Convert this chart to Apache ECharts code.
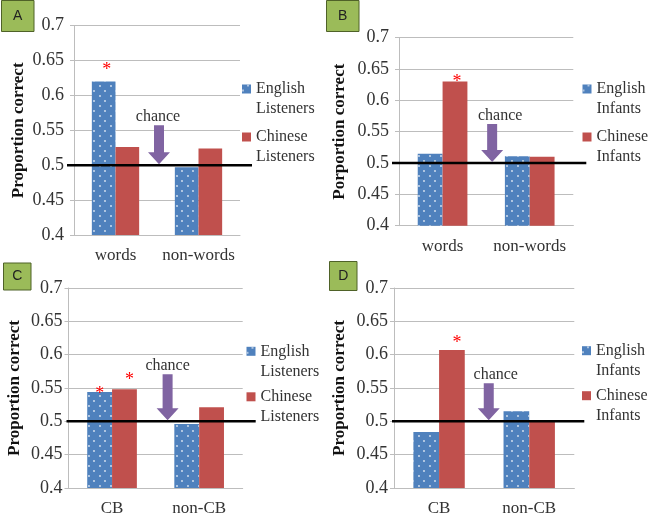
<!DOCTYPE html>
<html><head><meta charset="utf-8">
<script src="https://cdn.jsdelivr.net/npm/echarts@6/dist/echarts.min.js"></script>
<style>html,body{margin:0;padding:0;background:#fff}#c{width:650px;height:517px}</style>
</head><body><div id="c"></div>
<script>
// ---- data ----
const catsWords = ['words', 'non-words'];
const catsCB = ['CB', 'non-CB'];
const yMin = 0.4, yMax = 0.7, yStep = 0.05;
const chanceLevel = 0.5;
const listenerNames = ['English Listeners', 'Chinese Listeners'];
const infantNames = ['English Infants', 'Chinese Infants'];
const yTitles = ['Proportion correct', 'Porportion correct', 'Proportion correct', 'Proportion correct'];
const panelLetters = ['A', 'B', 'C', 'D'];

const aEnglish = [0.620, 0.497];
const aChinese = [0.526, 0.524];
const bEnglish = [0.515, 0.511];
const bChinese = [0.630, 0.510];
const cEnglish = [0.544, 0.496];
const cChinese = [0.548, 0.521];
const dEnglish = [0.484, 0.515];
const dChinese = [0.607, 0.501];

// significance markers (*)
const aEnglishSig = [true, false];
const aChineseSig = [false, false];
const bEnglishSig = [false, false];
const bChineseSig = [true, false];
const cEnglishSig = [true, false];
const cChineseSig = [true, false];
const dEnglishSig = [false, false];
const dChineseSig = [true, false];

// ---- style / layout ----
const SERIF = 'Liberation Serif';
const BLUE = '#4F81BD', RED = '#C0504D', PURPLE = '#8064A2', GRID = '#BDBDBD', TXT = '#333';

const panels = [
  { cats: catsWords, eng: aEnglish, chi: aChinese, engSig: aEnglishSig, chiSig: aChineseSig, names: listenerNames,
    grid: { left: 74, top: 25.7, width: 166, height: 209.3 }, nameGap: 47, labelMargin: 10,
    legend: { left: 242, top: 59, gap: -12 }, box: [1.5, 0.5, 32.5, 31],
    lineExt: [-7, 12], arrow: { dx: 2, len: 39 }, chanceDx: 1,
    engStar: [3, -2], chiStar: [5, 0] },
  { cats: catsWords, eng: bEnglish, chi: bChinese, engSig: bEnglishSig, chiSig: bChineseSig, names: infantNames,
    grid: { left: 399, top: 37.7, width: 174.3, height: 188 }, nameGap: 50.5, labelMargin: 10,
    legend: { left: 582.5, top: 59, gap: -12 }, box: [326.5, 0.5, 32.5, 31],
    lineExt: [-7, 13], arrow: { dx: 6, len: 38 }, chanceDx: 14,
    engStar: [2, 10], chiStar: [2, 10] },
  { cats: catsCB, eng: cEnglish, chi: cChinese, engSig: cEnglishSig, chiSig: cChineseSig, names: listenerNames,
    grid: { left: 68.5, top: 288, width: 174.2, height: 203.3 }, nameGap: 45, labelMargin: 6,
    legend: { left: 246.5, top: 321.3, gap: -14.5 }, box: [3.5, 263, 27.5, 27],
    lineExt: [-2, 13], arrow: { dx: 12, len: 46 }, chanceDx: 12,
    engStar: [0, 11], chiStar: [5, 0] },
  { cats: catsCB, eng: dEnglish, chi: dChinese, engSig: dEnglishSig, chiSig: dChineseSig, names: infantNames,
    grid: { left: 394, top: 288, width: 180.3, height: 204.3 }, nameGap: 45.5, labelMargin: 6,
    legend: { left: 582, top: 320.7, gap: -15 }, box: [329.5, 261.5, 27.5, 29],
    lineExt: [-2, 10], arrow: { dx: 4.6, len: 37 }, chanceDx: 11.6,
    engStar: [5, 2], chiStar: [5, 2] }
];

const dotDecal = {
  symbol: 'circle', symbolSize: 0.9, color: 'rgba(255,255,255,0.8)',
  dashArrayX: [[2, 9], [0, 5, 2, 4]], dashArrayY: [2, 3], rotation: 0
};

function barData(vals, sig, off) {
  return vals.map((v, k) => sig[k] ? {
    value: v,
    label: { show: true, formatter: '*', position: 'top', distance: 0, offset: off,
             color: '#FF0000', fontSize: 18, fontFamily: SERIF }
  } : v);
}

const chart = echarts.init(document.getElementById('c'), null, { renderer: 'canvas' });

const option = {
  animation: false,
  backgroundColor: '#fff',
  grid: panels.map(p => Object.assign({ containLabel: false }, p.grid)),
  xAxis: panels.map((p, i) => ({
    type: 'category', gridIndex: i, data: p.cats,
    axisLine: { lineStyle: { color: GRID, width: 1 } },
    axisTick: { show: false },
    axisLabel: { color: TXT, fontFamily: SERIF, fontSize: 17, margin: 12, interval: 0 }
  })),
  yAxis: panels.map((p, i) => ({
    type: 'value', gridIndex: i, min: yMin, max: yMax, interval: yStep,
    name: yTitles[i], nameLocation: 'middle', nameGap: p.nameGap,
    nameTextStyle: { fontFamily: SERIF, fontWeight: 'bold', fontSize: 17, color: '#111' },
    axisLine: { show: true, lineStyle: { color: GRID, width: 1 } },
    axisTick: { show: true, length: 4, lineStyle: { color: GRID } },
    splitLine: { lineStyle: { color: GRID, width: 1 } },
    axisLabel: { color: TXT, fontFamily: SERIF, fontSize: 18, margin: p.labelMargin,
                 formatter: v => String(+v.toFixed(2)) }
  })),
  legend: panels.map(p => ({
    data: p.names, orient: 'vertical', left: p.legend.left, top: p.legend.top,
    itemGap: p.legend.gap, itemWidth: 9, itemHeight: 9, icon: 'rect', padding: 0,
    selectedMode: false,
    // leading blank line keeps the first text line level with the colour square
    formatter: n => '\u00a0\n' + n.replace(' ', '\n'),
    textStyle: { fontFamily: SERIF, fontSize: 16, lineHeight: 20, color: TXT }
  })),
  series: panels.flatMap((p, i) => [
    { type: 'bar', name: p.names[0], xAxisIndex: i, yAxisIndex: i,
      barGap: '0%', barCategoryGap: '43%',
      itemStyle: { color: BLUE, decal: dotDecal },
      data: barData(p.eng, p.engSig, p.engStar) },
    { type: 'bar', name: p.names[1], xAxisIndex: i, yAxisIndex: i,
      barGap: '0%', barCategoryGap: '43%',
      itemStyle: { color: RED },
      data: barData(p.chi, p.chiSig, p.chiStar) }
  ])
};
chart.setOption(option);

// annotations using the library's own scales
const gfx = [];
panels.forEach((p, i) => {
  const [x0, y05] = chart.convertToPixel({ gridIndex: i }, [0, chanceLevel]);
  const x1 = chart.convertToPixel({ gridIndex: i }, [1, chanceLevel])[0];
  const mid = (x0 + x1) / 2;
  const g = p.grid;
  // chance line
  gfx.push({ type: 'line', z: 100,
    shape: { x1: g.left + p.lineExt[0], y1: y05, x2: g.left + g.width + p.lineExt[1], y2: y05 },
    style: { stroke: '#000', lineWidth: 2.5 } });
  // arrow
  const cx = mid + p.arrow.dx, tip = y05 - 1, top = tip - p.arrow.len, hh = 12;
  gfx.push({ type: 'polygon', z: 100,
    shape: { points: [[cx - 5, top], [cx + 5, top], [cx + 5, tip - hh], [cx + 11, tip - hh], [cx, tip],
                      [cx - 11, tip - hh], [cx - 5, tip - hh]] },
    style: { fill: PURPLE } });
  gfx.push({ type: 'text', z: 100, x: mid + p.chanceDx, y: top - 8.5,
    style: { text: 'chance', fill: TXT, font: '16px "' + SERIF + '"', align: 'center', verticalAlign: 'middle' } });
  // panel letter box
  const b = p.box;
  gfx.push({ type: 'rect', z: 100, shape: { x: b[0], y: b[1], width: b[2], height: b[3] },
    style: { fill: '#9BBB59', stroke: '#4F6228', lineWidth: 1 } });
  gfx.push({ type: 'text', z: 101, x: b[0] + b[2] / 2, y: b[1] + b[3] / 2,
    style: { text: panelLetters[i], fill: '#222', font: '14px "Liberation Sans"', align: 'center', verticalAlign: 'middle' } });
});
chart.setOption({ graphic: gfx });
</script>
</body></html>
